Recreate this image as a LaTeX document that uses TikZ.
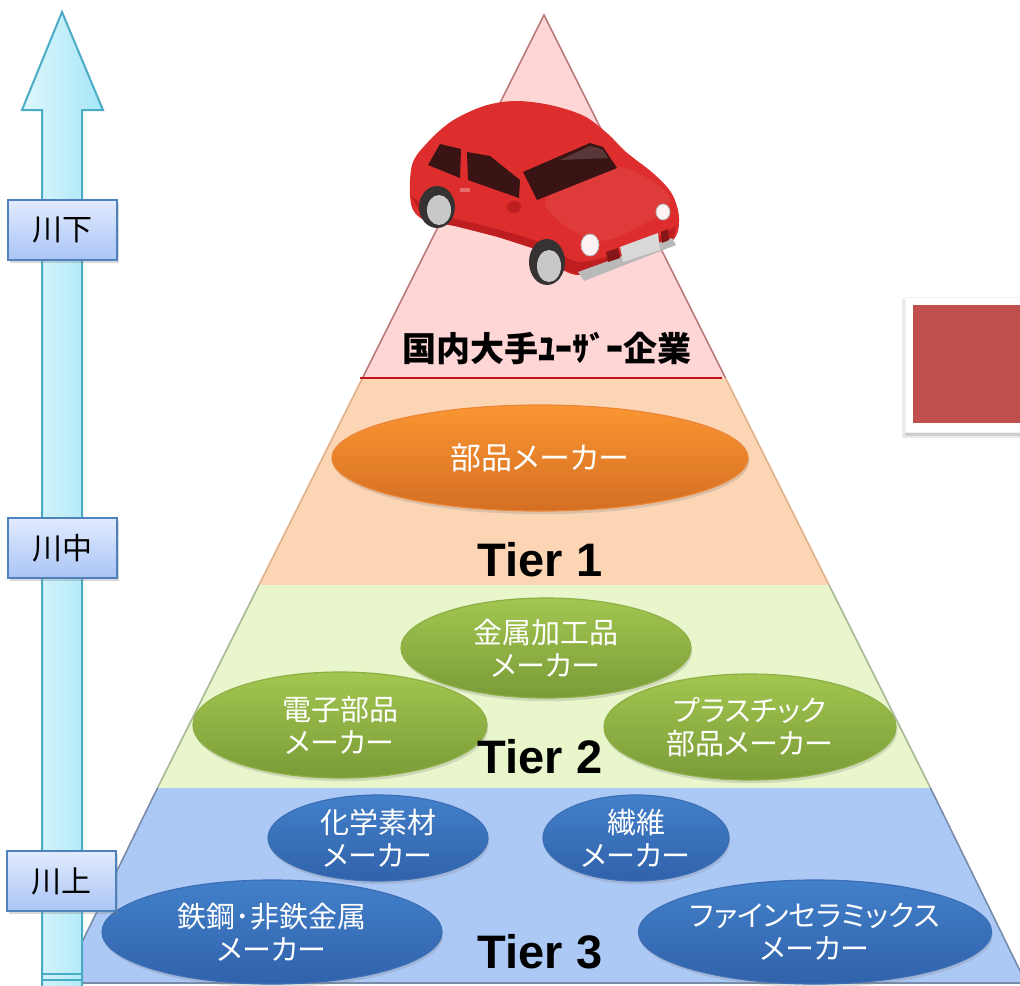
\documentclass[tikz,border=0pt]{standalone}
\usepackage{fontspec}
\setmainfont{Liberation Sans}
\newfontfamily\jpfont[CharacterWidth=AlternateProportional]{Noto Sans CJK JP}
\usetikzlibrary{shapes.geometric,shadows}
\definecolor{arrowLeft}{RGB}{222,247,253}
\definecolor{arrowRight}{RGB}{166,230,247}
\definecolor{arrowEdge}{RGB}{75,172,198}
\definecolor{boxTop}{RGB}{226,235,254}
\definecolor{boxBot}{RGB}{169,196,245}
\definecolor{boxEdge}{RGB}{79,129,189}
\definecolor{bandPink}{RGB}{255,214,214}
\definecolor{edgePink}{RGB}{192,128,128}
\definecolor{bandPeach}{RGB}{252,213,181}
\definecolor{edgePeach}{RGB}{225,176,140}
\definecolor{bandGreen}{RGB}{233,246,203}
\definecolor{edgeGreen}{RGB}{170,185,150}
\definecolor{bandBlue}{RGB}{172,200,245}
\definecolor{edgeBlue}{RGB}{120,140,170}
\definecolor{orangeTop}{RGB}{250,150,50}
\definecolor{orangeBot}{RGB}{212,110,35}
\definecolor{orangeEdge}{RGB}{235,135,55}
\definecolor{greenTop}{RGB}{163,198,80}
\definecolor{greenBot}{RGB}{122,155,55}
\definecolor{greenEdge}{RGB}{140,175,70}
\definecolor{blueTop}{RGB}{66,128,202}
\definecolor{blueBot}{RGB}{48,98,170}
\definecolor{blueEdge}{RGB}{60,110,180}
\definecolor{squareRed}{RGB}{192,80,77}
\definecolor{lineRed}{RGB}{200,20,30}
\definecolor{carRed}{RGB}{221,45,45}
\definecolor{carShade}{RGB}{190,30,32}
\definecolor{carGlass}{RGB}{58,20,20}
\definecolor{tireDark}{RGB}{55,50,50}
\definecolor{rimGrey}{RGB}{200,200,200}

\begin{document}
\begin{tikzpicture}[x=0.5pt,y=-0.5pt,
    tier/.style={font=\bfseries\fontsize{23.5}{26}\selectfont},
    maker/.style={ellipse, inner sep=0pt, align=center, text=white, line width=0.6pt,
      font=\jpfont\fontsize{14.5}{16.5}\selectfont,
      drop shadow={shadow xshift=0.6pt, shadow yshift=-1.6pt, opacity=0.25}},
    greenMaker/.style={maker, draw=greenEdge, top color=greenTop, bottom color=greenBot},
    blueMaker/.style={maker, draw=blueEdge, top color=blueTop, bottom color=blueBot},
    river/.style={draw=boxEdge, line width=1pt, top color=boxTop, bottom color=boxBot,
      minimum width=54.5pt, minimum height=30pt, inner sep=0pt,
      font=\jpfont\fontsize{15}{15}\selectfont,
      drop shadow={shadow xshift=1.2pt, shadow yshift=-1.5pt, opacity=0.3}}]
  \clip (0,0) rectangle (1020,985);

  % Pyramid bands, top to bottom
  \fill[bandPink] (544,15) -- (725.5,378) -- (362.5,378) -- cycle;
  \draw[edgePink, line width=0.8pt] (362.5,378) -- (544,15) -- (725.5,378);
  \fill[bandPeach] (362.5,378) -- (725.5,378) -- (829,585) -- (259,585) -- cycle;
  \draw[edgePeach, line width=0.8pt] (362.5,378) -- (259,585) (725.5,378) -- (829,585);
  \fill[bandGreen] (259,585) -- (829,585) -- (930.5,788) -- (157.5,788) -- cycle;
  \draw[edgeGreen, line width=0.8pt] (259,585) -- (157.5,788) (829,585) -- (930.5,788);
  \fill[bandBlue] (157.5,788) -- (930.5,788) -- (1026,983) -- (62,983) -- cycle;
  \draw[edgeBlue, line width=0.8pt] (157.5,788) -- (62,983) -- (1026,983) -- (930.5,788);
  \draw[lineRed, line width=1pt] (360,378) -- (722,378);

  % Car
  \fill[carRed] plot[smooth cycle, tension=0.55] coordinates {(412,165) (428,142) (452,121)
    (484,106) (515,101) (550,105) (584,116) (608,134) (626,152) (654,174) (672,194)
    (679,218) (673,240) (640,256) (600,268) (580,275) (563,270) (538,250) (498,237)
    (455,226) (424,220) (411,204)};
  \fill[carShade] plot[smooth, tension=0.5] coordinates {(411,196) (440,214) (500,230)
    (545,244) (580,262) (640,246) (676,226)} -- (673,240) -- (640,256) -- (580,275)
    -- (563,270) -- (538,250) -- (498,237) -- (455,226) -- (424,220) -- cycle;
  \fill[white, opacity=0.07] plot[smooth cycle, tension=0.6] coordinates {(545,200)
    (612,168) (650,180) (670,202) (640,226) (592,240)};
  % windows
  \fill[carGlass] (428,165) -- (440,144) -- (461,149) -- (460,178) -- cycle;
  \fill[carGlass] (467,152) -- (490,156) -- (520,180) -- (519,198) -- (468,180) -- cycle;
  \fill[carGlass] (523,172) -- (590,143) -- (603,147) -- (617,168) -- (537,200) -- cycle;
  \fill[white, opacity=0.15] (560,160) -- (590,146) -- (602,149) -- (608,158) -- cycle;
  % mirror and handle
  \fill[carShade] (514,207) ellipse [x radius=7, y radius=6];
  \fill[white, opacity=0.3] (460,188) rectangle (470,192);
  % front: bumper, plate, lamps
  \fill[gray!55] (578,272) -- (672,238) -- (676,245) -- (584,281) -- cycle;
  \fill[gray!30] (620,247) -- (658,233) -- (660,250) -- (623,262) -- cycle;
  \fill[carShade!70!black] (606,252) -- (618,248) -- (620,258) -- (608,262) -- cycle;
  \fill[carShade!70!black] (661,232) -- (668,229) -- (669,240) -- (662,243) -- cycle;
  \filldraw[fill=white!95!red, draw=gray!60] (590,245) ellipse [x radius=9, y radius=11];
  \filldraw[fill=white!95!red, draw=gray!60] (663,212) ellipse [x radius=7, y radius=8];
  % wheels
  \fill[tireDark] (437,207) ellipse [x radius=18, y radius=21];
  \fill[rimGrey] (439,210) ellipse [x radius=12, y radius=15];
  \fill[tireDark] (547,262) ellipse [x radius=18, y radius=23];
  \fill[rimGrey] (549,266) ellipse [x radius=12, y radius=16];

  \node[font=\jpfont\bfseries\fontsize{17}{17}\selectfont] (user) at (547,348) {国内大手ﾕｰｻﾞｰ企業};

  % Tier 1
  \node[maker, draw=orangeEdge, top color=orangeTop, bottom color=orangeBot,
    minimum width=208pt, minimum height=53pt, font=\jpfont\fontsize{15.5}{17}\selectfont]
    (parts) at (540,458) {部品メーカー};
  \node[tier] (tier1) at (540,560) {Tier 1};

  % Tier 2
  \node[greenMaker, minimum width=145pt, minimum height=50pt] (metalwork) at (546,648) {金属加工品\\メーカー};
  \node[greenMaker, minimum width=147pt, minimum height=53pt] (electronic) at (340,725) {電子部品\\メーカー};
  \node[greenMaker, minimum width=146pt, minimum height=53pt] (plastic) at (750,727) {プラスチック\\部品メーカー};
  \node[tier] (tier2) at (540,757) {Tier 2};

  % Tier 3
  \node[blueMaker, minimum width=110pt, minimum height=43pt] (chemical) at (378,838) {化学素材\\メーカー};
  \node[blueMaker, minimum width=93pt, minimum height=43pt] (fiber) at (636,838) {繊維\\メーカー};
  \node[blueMaker, minimum width=170pt, minimum height=52pt] (steel) at (272,932) {鉄鋼･非鉄金属\\メーカー};
  \node[blueMaker, minimum width=174pt, minimum height=52pt] (ceramics) at (815,932) {ファインセラミックス\\メーカー};
  \node[tier] (tier3) at (540,952) {Tier 3};

  % Upstream-downstream arrow
  \filldraw[left color=arrowLeft, right color=arrowRight, draw=arrowEdge, line width=1pt]
    (62,12) -- (103,110) -- (82,110) -- (82,990) -- (42,990) -- (42,110) -- (22,110) -- cycle;
  \draw[arrowEdge, line width=1pt] (42,974) -- (82,974) (42,980) -- (82,980);
  \node[river] (down) at (62.5,230) {川下};
  \node[river] (middle) at (62.5,548) {川中};
  \node[river] (up) at (61,881) {川上};

  % Red square in a white frame at the right edge
  \fill[black, opacity=0.08] (902,299) rectangle (1030,438);
  \fill[black, opacity=0.12] (905,302) rectangle (1030,436);
  \filldraw[fill=white, draw=gray!12] (905,297) rectangle (1030,432);
  \fill[squareRed] (913,305) rectangle (1030,423);
\end{tikzpicture}
\end{document}
